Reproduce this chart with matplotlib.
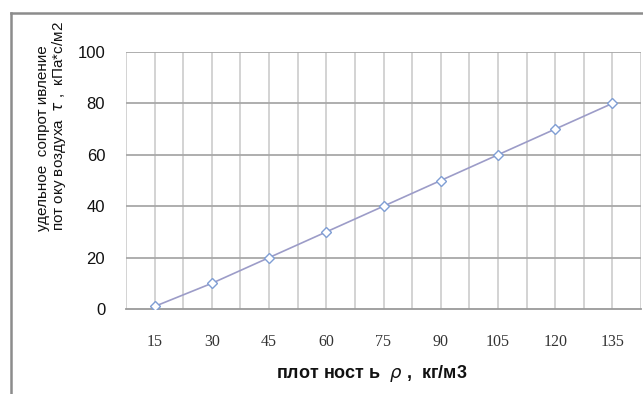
import matplotlib.pyplot as plt
from matplotlib.lines import Line2D

# плотность материала и удельное сопротивление потоку воздуха
density = ["15", "30", "45", "60", "75", "90", "105", "120", "135"]
resistance = [1, 10, 20, 30, 40, 50, 60, 70, 80]
y_ticks = [0, 20, 40, 60, 80, 100]

W, H = 643, 394
fig = plt.figure(figsize=(W / 100, H / 100), dpi=100)
fig.patch.set_facecolor("white")

ax = fig.add_axes([126 / W, 85 / H, 515 / W, 257 / H])

x = list(range(len(density)))
ax.plot(x, resistance, color="#9c9cc8", linewidth=1.2,
        marker="D", markersize=5.5, markerfacecolor="white",
        markeredgecolor="#7f9ed4", markeredgewidth=1.0, zorder=3)

ax.set_xlim(-0.5, len(density) - 0.5)
ax.set_ylim(0, 100)

# вертикальная сетка через каждые полкатегории
half_steps = [i * 0.5 - 0.5 for i in range(2 * len(density) + 1)]
for xv in half_steps:
    ax.axvline(xv, color="#d0d0d0", linewidth=1.3, zorder=1)
for yv in y_ticks[1:]:
    ax.axhline(yv, color="#a8a8a8", linewidth=1.3, zorder=1)

ax.set_xticks(x)
ax.set_xticklabels(density, family="Liberation Serif", fontsize=11.5, color="#333333")
ax.set_yticks(y_ticks)
ax.set_yticklabels([str(v) for v in y_ticks], family="Liberation Sans",
                   fontsize=12, color="#111111")
ax.tick_params(axis="both", length=0)
ax.tick_params(axis="x", pad=18)
ax.tick_params(axis="y", pad=15)

for side in ("top", "right", "left"):
    ax.spines[side].set_visible(False)
ax.spines["bottom"].set_color("#9a9a9a")
ax.spines["bottom"].set_linewidth(1.3)

fig.text(372 / W, 1 - 373 / H,
         "плот ност ь  $\\rho$ ,  кг/м3",
         ha="center", va="center", family="Liberation Sans",
         fontsize=13, fontweight="bold", color="#111111")

fig.text(52 / W, 1 - 231 / H,
         "удельное  сопрот ивление\nпот оку воздуха  $\\tau$ ,  кПа*с/м2",
         rotation=90, ha="center", va="bottom", multialignment="left",
         family="Liberation Sans", fontsize=11, color="#111111",
         linespacing=1.05)

# серая рамка вокруг диаграммы (левая и верхняя стороны)
fx, fy = 11 / W, 1 - 13 / H
fig.add_artist(Line2D([fx, 0.999], [fy, fy], transform=fig.transFigure,
                      color="#8c8c8c", linewidth=1.8, zorder=10))
fig.add_artist(Line2D([fx, fx], [0.001, fy], transform=fig.transFigure,
                      color="#8c8c8c", linewidth=1.8, zorder=10))

fig.savefig("out.png", dpi=100)
